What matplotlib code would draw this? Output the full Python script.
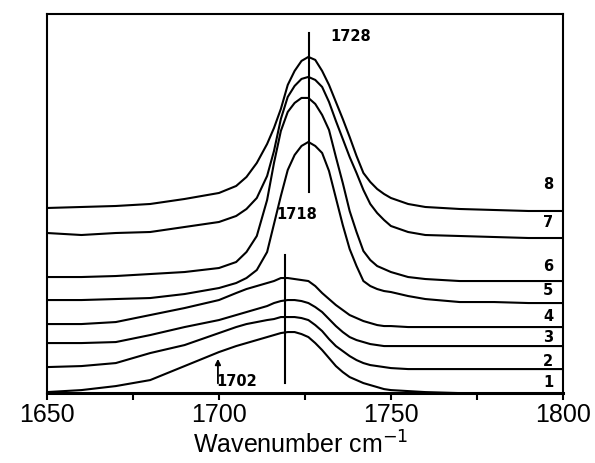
import numpy as np
import matplotlib
matplotlib.use("Agg")
import matplotlib.pyplot as plt

# wavenumber grid (cm-1) at which the spectra were read
wavenumber = [1650, 1660, 1670, 1680, 1690, 1700, 1705, 1708, 1711, 1714, 1716, 1718,
              1720, 1722, 1724, 1726, 1728, 1730, 1732, 1734, 1736, 1738, 1740, 1742,
              1744, 1746, 1748, 1750, 1755, 1760, 1770, 1780, 1790, 1800]

# absorbance (offset, a.u.) of spectra 1..8
spec_1 = [0.01, 0.03, 0.07, 0.13, 0.27, 0.41, 0.47, 0.50, 0.53, 0.56, 0.58, 0.60,
          0.61, 0.61, 0.59, 0.56, 0.50, 0.43, 0.35, 0.27, 0.21, 0.16, 0.13, 0.10,
          0.08, 0.06, 0.04, 0.03, 0.02, 0.01, 0.00, 0.00, 0.00, 0.00]
spec_2 = [0.26, 0.27, 0.30, 0.40, 0.48, 0.60, 0.66, 0.69, 0.71, 0.73, 0.74, 0.76,
          0.76, 0.76, 0.75, 0.73, 0.68, 0.62, 0.54, 0.47, 0.42, 0.37, 0.33, 0.30,
          0.28, 0.27, 0.26, 0.25, 0.24, 0.24, 0.24, 0.24, 0.24, 0.24]
spec_3 = [0.50, 0.50, 0.51, 0.58, 0.66, 0.73, 0.78, 0.81, 0.84, 0.87, 0.90, 0.92,
          0.93, 0.93, 0.92, 0.90, 0.86, 0.81, 0.74, 0.67, 0.61, 0.56, 0.53, 0.51,
          0.49, 0.48, 0.47, 0.47, 0.47, 0.47, 0.47, 0.47, 0.47, 0.47]
spec_4 = [0.69, 0.69, 0.71, 0.78, 0.85, 0.93, 1.00, 1.04, 1.07, 1.10, 1.12, 1.15,
          1.15, 1.14, 1.13, 1.12, 1.07, 1.00, 0.94, 0.88, 0.83, 0.78, 0.75, 0.72,
          0.70, 0.68, 0.67, 0.67, 0.66, 0.66, 0.66, 0.66, 0.66, 0.66]
spec_5 = [0.93, 0.93, 0.94, 0.95, 0.99, 1.05, 1.10, 1.15, 1.23, 1.41, 1.69, 1.97,
          2.23, 2.38, 2.47, 2.51, 2.47, 2.40, 2.22, 1.95, 1.68, 1.44, 1.27, 1.12,
          1.07, 1.04, 1.02, 1.01, 0.97, 0.94, 0.91, 0.91, 0.90, 0.90]
spec_6 = [1.16, 1.16, 1.17, 1.19, 1.21, 1.25, 1.31, 1.41, 1.57, 1.93, 2.30, 2.62,
          2.81, 2.90, 2.95, 2.95, 2.89, 2.78, 2.63, 2.36, 2.10, 1.82, 1.61, 1.42,
          1.33, 1.27, 1.24, 1.21, 1.16, 1.14, 1.12, 1.12, 1.12, 1.12]
spec_7 = [1.60, 1.58, 1.60, 1.61, 1.66, 1.71, 1.77, 1.84, 1.95, 2.17, 2.42, 2.74,
          2.96, 3.07, 3.14, 3.16, 3.13, 3.06, 2.91, 2.72, 2.54, 2.36, 2.20, 2.03,
          1.89, 1.80, 1.73, 1.67, 1.61, 1.58, 1.57, 1.56, 1.55, 1.55]
spec_8 = [1.85, 1.86, 1.87, 1.89, 1.94, 2.00, 2.07, 2.16, 2.30, 2.49, 2.65, 2.84,
          3.08, 3.22, 3.32, 3.36, 3.33, 3.22, 3.08, 2.91, 2.74, 2.56, 2.37, 2.20,
          2.11, 2.04, 1.99, 1.95, 1.89, 1.86, 1.84, 1.83, 1.82, 1.82]

spectra = [spec_1, spec_2, spec_3, spec_4, spec_5, spec_6, spec_7, spec_8]
labels = ["1", "2", "3", "4", "5", "6", "7", "8"]
label_y = [0.11, 0.32, 0.56, 0.77, 1.03, 1.27, 1.70, 2.08]

fig = plt.figure(figsize=(5.95, 4.63), dpi=100)
ax = fig.add_axes([0.079, 0.151, 0.867, 0.819])

for s in spectra:
    ax.plot(wavenumber, s, color="black", lw=1.5)

# curve numbers at the right edge
for lab, y in zip(labels, label_y):
    ax.text(1795.8, y, lab, ha="center", va="center", fontsize=10.5, fontweight="bold")

# band markers
ax.plot([1726.2, 1726.2], [2.01, 3.60], color="black", lw=1.5)
ax.text(1732.3, 3.56, "1728", ha="left", va="center", fontsize=10.5, fontweight="bold")
ax.plot([1719.2, 1719.2], [0.10, 1.38], color="black", lw=1.5)
ax.text(1722.6, 1.78, "1718", ha="center", va="center", fontsize=10.5, fontweight="bold")
ax.annotate("", xy=(1699.7, 0.37), xytext=(1699.7, 0.07),
            arrowprops=dict(arrowstyle="-|>", color="black", lw=1.3, mutation_scale=8))
ax.text(1705.2, 0.12, "1702", ha="center", va="center", fontsize=10.5, fontweight="bold")

ax.set_xlim(1650, 1800)
ax.set_ylim(0, 3.79)
ax.set_xticks([1650, 1700, 1750, 1800])
ax.set_xticks([1675, 1725, 1775], minor=True)
ax.set_yticks([])
ax.tick_params(axis="x", which="both", direction="out", length=5, width=1.5,
               labelsize=18, pad=2)
for lab in ax.get_xticklabels():
    lab.set_fontfamily("Liberation Sans")
for sp in ax.spines.values():
    sp.set_linewidth(1.5)
ax.spines["bottom"].set_linewidth(2.2)

ax.set_xlabel("Wavenumber cm$^{-1}$", fontsize=18, family="Liberation Sans")
ax.xaxis.set_label_coords(0.492, -0.102)
ax.xaxis.label.set_va("top")

fig.savefig("out.png", dpi=100)
